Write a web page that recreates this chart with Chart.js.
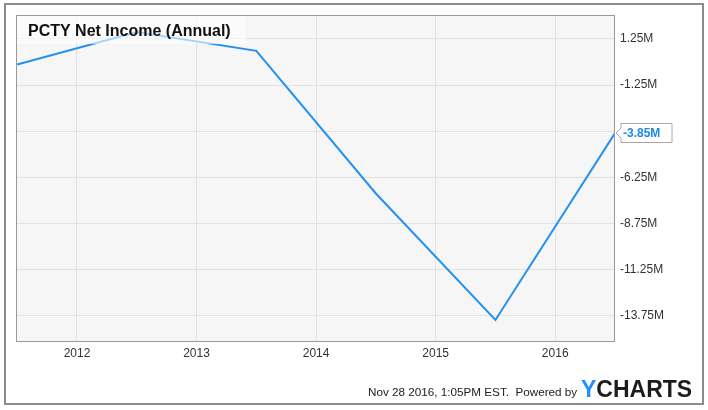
<!DOCTYPE html>
<html>
<head>
<meta charset="utf-8">
<script src="https://cdn.jsdelivr.net/npm/chart.js@4/dist/chart.umd.min.js"></script>
<style>
  html, body { margin: 0; padding: 0; background: #fff; }
  canvas { display: block; }
</style>
</head>
<body>
<canvas id="income-graph" width="708" height="410"></canvas>
<script>
	// fiscal year ends (June 30), as fractional years
	var fiscalYearEnds = [2011.5, 2012.5, 2013.5, 2014.5, 2015.5, 2016.5];
	// net income, millions USD
	var netIncome = [-0.13, 1.63, 0.61, -7.12, -13.97, -3.85];
	var xTickYears = [2012, 2013, 2014, 2015, 2016];
	var yTickValues = [1.25, -1.25, -3.75, -6.25, -8.75, -11.25, -13.75];
	var lastLabel = '-3.85M';
	var chartTitle = 'PCTY Net Income (Annual)';
	var footerText = 'Nov 28 2016, 1:05PM EST.  Powered by';

	var fontFam = '"Liberation Sans", Arial, sans-serif';
	var lineBlue = '#2391f0';

	var frame = {
		id: 'frame',
		beforeDraw: function(chart) {
			var c = chart.ctx, a = chart.chartArea;
			c.save();
			c.fillStyle = '#fff';
			c.fillRect(0, 0, chart.width, chart.height);
			c.fillStyle = '#f6f6f6';
			c.fillRect(a.left, a.top, a.right - a.left, a.bottom - a.top);
			c.restore();
		},
		afterDatasetsDraw: function(chart) {
			var c = chart.ctx, a = chart.chartArea;
			c.save();
			// plot border
			c.strokeStyle = '#9a9a9a';
			c.lineWidth = 1;
			c.strokeRect(a.left + 0.5, a.top + 0.5, a.right - a.left - 1, a.bottom - a.top);
			// title box
			c.fillStyle = 'rgba(255,255,255,0.6)';
			c.fillRect(a.left + 1, a.top + 1, 229, 28);
			c.fillStyle = '#111';
			c.font = 'bold 16px ' + fontFam;
			c.textBaseline = 'alphabetic';
			c.fillText(chartTitle, 28, 36);
			// last value flag
			var meta = chart.getDatasetMeta(0);
			var pt = meta.data[meta.data.length - 1];
			var px = Math.round(pt.x), py = Math.round(pt.y);
			c.beginPath();
			c.moveTo(px + 1, py);
			c.lineTo(px + 6, py - 5);
			c.lineTo(px + 6, py - 9.5);
			c.lineTo(px + 57, py - 9.5);
			c.lineTo(px + 57, py + 9.5);
			c.lineTo(px + 6, py + 9.5);
			c.lineTo(px + 6, py + 5);
			c.closePath();
			c.fillStyle = '#fff';
			c.fill();
			c.strokeStyle = '#a8a8a8';
			c.lineWidth = 1;
			c.stroke();
			c.fillStyle = '#1e88e5';
			c.font = 'bold 12px ' + fontFam;
			c.textBaseline = 'middle';
			c.fillText(lastLabel, px + 8, py + 1);
			c.restore();
		},
		afterDraw: function(chart) {
			var c = chart.ctx;
			c.save();
			// outer frame
			c.strokeStyle = '#8c8c8c';
			c.lineWidth = 2;
			c.strokeRect(5, 4, 698, 400);
			// footer
			c.textBaseline = 'alphabetic';
			c.fillStyle = '#222';
			c.font = '11.7px ' + fontFam;
			c.fillText(footerText, 368, 396);
			c.font = 'bold 23px ' + fontFam;
			c.fillStyle = '#1e90ff';
			c.fillText('Y', 581, 397);
			var w = c.measureText('Y').width;
			c.fillStyle = '#1c1c1c';
			c.fillText('CHARTS', 581 + w, 397);
			c.restore();
		}
	};

	var incomeChart = new Chart(document.getElementById('income-graph'), {
		type: 'line',
		data: {
			datasets: [{
				label: 'Net Income',
				data: fiscalYearEnds.map(function(x, i) { return {x: x, y: netIncome[i]}; }),
				borderColor: lineBlue,
				borderWidth: 2,
				pointRadius: 0,
				tension: 0,
				fill: false
			}]
		},
		options: {
			responsive: false,
			animation: false,
			layout: { padding: { left: 16, top: 15, right: 0, bottom: 0 } },
			plugins: { legend: { display: false }, tooltip: { enabled: false } },
			scales: {
				x: {
					type: 'linear',
					min: 2011.49,
					max: 2016.5,
					afterBuildTicks: function(s) { s.ticks = xTickYears.map(function(v) { return {value: v}; }); },
					afterFit: function(s) { s.height = 69; },
					grid: { color: '#e2e2e2', drawTicks: false },
					border: { display: false },
					ticks: {
						padding: 5,
						color: '#333',
						font: { family: fontFam, size: 12 },
						callback: function(v) { return String(v); }
					}
				},
				y: {
					position: 'right',
					min: -15.11,
					max: 2.55,
					afterBuildTicks: function(s) { s.ticks = yTickValues.map(function(v) { return {value: v}; }); },
					afterFit: function(s) { s.width = 93; },
					grid: { color: '#e2e2e2', drawTicks: false },
					border: { display: false },
					ticks: {
						padding: 5,
						color: '#333',
						font: { family: fontFam, size: 12 },
						callback: function(v) { return v === -3.75 ? '' : v.toFixed(2) + 'M'; }
					}
				}
			}
		},
		plugins: [frame]
	});
</script>
</body>
</html>
